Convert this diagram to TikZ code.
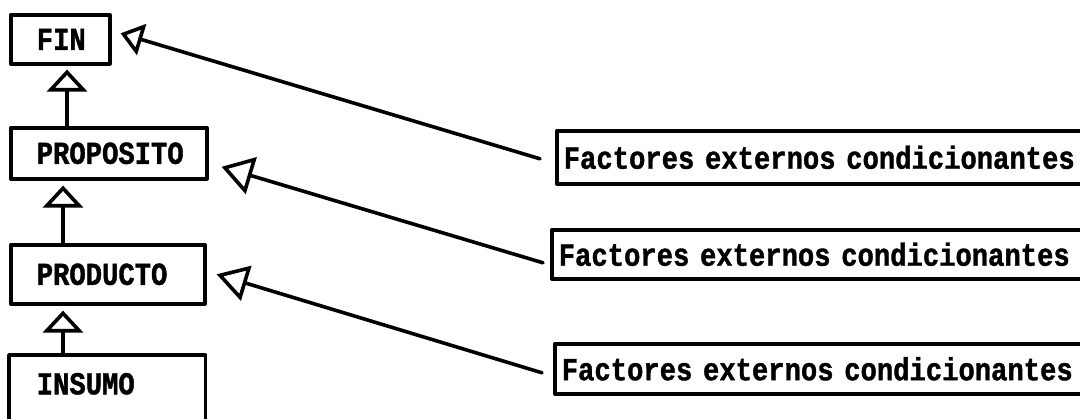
\documentclass[tikz,border=0pt]{standalone}
\usepackage{fontspec}
\setmonofont[FakeStretch=0.85, BoldFeatures={FakeBold=1.2}]{Liberation Mono}
\usetikzlibrary{arrows.meta}
\begin{document}
\begin{tikzpicture}[x=1pt,y=-1pt,
  lw/.style={line width=3.6pt, line join=round, line cap=round},
  boxfont/.style={font=\ttfamily\bfseries\fontsize{32}{34}\selectfont},
  lbox/.style={lw, draw, boxfont, anchor=north west, inner xsep=26pt, inner ysep=0pt, align=left},
  rbox/.style={lw, draw, boxfont, anchor=north west, inner xsep=7pt, inner ysep=0pt, align=left, text width=560pt},
  vtip/.style={-{Triangle[open, length=22pt, width=40pt, line width=3.6pt]}},
  dtip/.style 2 args={-{Triangle[open, length=#1, width=#2, line width=3.6pt]}}
]
\useasboundingbox (0,0) rectangle (1080,419);
\clip (0,0) rectangle (1080,419);

% left column
\node[lbox, text width=47pt, minimum height=49pt] (fin) at (9,13) {FIN};
\node[lbox, text width=144pt, minimum height=51pt] (prop) at (9,126) {PROPOSITO};
\node[lbox, text width=142pt, minimum height=59pt] (prod) at (9,243) {PRODUCTO};
\node[lbox, draw=none, text width=141pt, minimum height=54pt] (ins) at (9,355) {INSUMO};
\draw[lw] ([yshift=-40pt]ins.south west) -- (ins.north west) -- (ins.north east) -- ([yshift=-40pt]ins.south east);

% vertical arrows
\draw[lw, vtip] ([xshift=58pt]prop.north west) -- ([xshift=58pt, yshift=-4pt]fin.south west);
\draw[lw, vtip] ([xshift=54pt]prod.north west) -- ([xshift=54pt, yshift=-5pt]prop.south west);
\draw[lw, vtip] ([xshift=54pt]ins.north west) -- ([xshift=54pt, yshift=-5pt]prod.south west);

% right column
\node[rbox, minimum height=53pt] (f1) at (555,129) {Factores externos condicionantes};
\node[rbox, minimum height=49pt] (f2) at (550,228) {Factores externos condicionantes};
\node[rbox, minimum height=50pt] (f3) at (553,342) {Factores externos condicionantes};

% diagonal arrows
\draw[lw, dtip={22pt}{32pt}] ([xshift=-15pt, yshift=-1.5pt]f1.west) -- ([xshift=9pt, yshift=6pt]fin.east);
\draw[lw, dtip={31pt}{38pt}] ([xshift=-7pt, yshift=-8.5pt]f2.west) -- ([xshift=13pt, yshift=-13.5pt]prop.east);
\draw[lw, dtip={31pt}{36pt}] ([xshift=-11pt, yshift=-4pt]f3.west) -- ([xshift=10pt]prod.east);
\end{tikzpicture}
\end{document}
